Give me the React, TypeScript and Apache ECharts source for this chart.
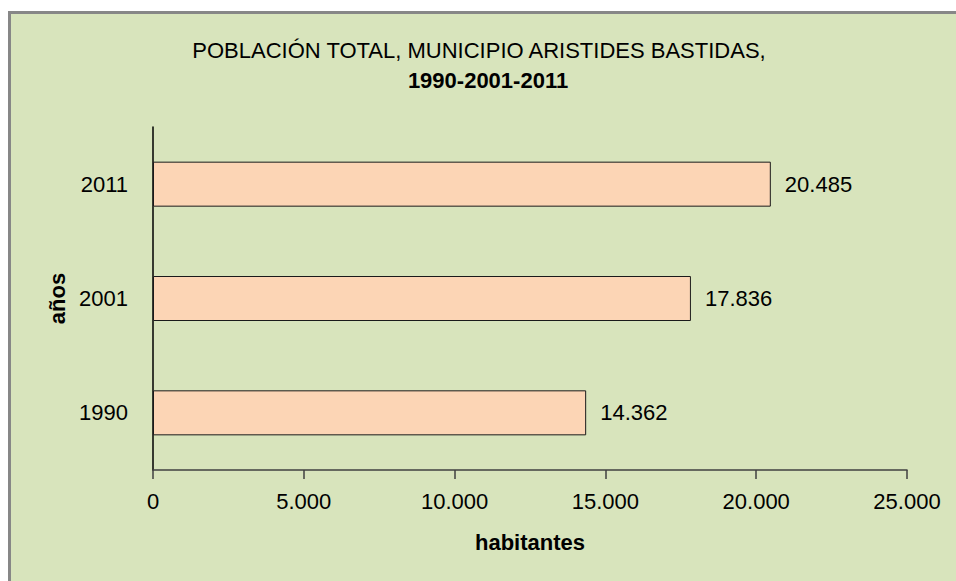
import React, { useEffect, useRef } from "react";
import * as echarts from "echarts";

const categories = ["1990", "2001", "2011"];
const population = [14362, 17836, 20485];
const xTicks = [0, 5000, 10000, 15000, 20000, 25000];
const titleLine1 = "POBLACIÓN TOTAL, MUNICIPIO ARISTIDES BASTIDAS,";
const titleLine2 = "1990-2001-2011";
const xName = "habitantes";
const yName = "años";

const FONT = "'Liberation Sans', Arial, sans-serif";

const fmt = (v: number) => String(v).replace(/\B(?=(\d{3})+(?!\d))/g, ".");

export default function App() {
  const ref = useRef<HTMLDivElement>(null);
  useEffect(() => {
    if (!ref.current) return;
    const chart = echarts.init(ref.current, undefined, { renderer: "svg" });
    chart.setOption({
      animation: false,
      backgroundColor: "#d8e4bc",
      textStyle: { fontFamily: FONT },
      graphic: [
        {
          type: "text",
          x: 468,
          y: 36,
          style: {
            text: titleLine1,
            textAlign: "center",
            textVerticalAlign: "middle",
            fontFamily: FONT,
            fontSize: 22,
            fill: "#000",
          },
        },
        {
          type: "text",
          x: 477,
          y: 66,
          style: {
            text: titleLine2,
            textAlign: "center",
            textVerticalAlign: "middle",
            fontFamily: FONT,
            fontSize: 22,
            fontWeight: "bold",
            fill: "#000",
          },
        },
      ],
      grid: { left: 142, top: 113, width: 754, height: 343, containLabel: false },
      xAxis: {
        type: "value",
        min: xTicks[0],
        max: xTicks[xTicks.length - 1],
        interval: xTicks[1] - xTicks[0],
        name: xName,
        nameLocation: "middle",
        nameGap: 61,
        nameTextStyle: { fontFamily: FONT, fontSize: 22, fontWeight: "bold", color: "#000" },
        axisLine: { show: true, lineStyle: { color: "#404040", width: 1.5 } },
        axisTick: { show: true, length: 9, lineStyle: { color: "#404040", width: 1.5 } },
        axisLabel: { fontFamily: FONT, fontSize: 22, color: "#000", margin: 20, formatter: (v: number) => fmt(v) },
        splitLine: { show: false },
      },
      yAxis: {
        type: "category",
        data: categories,
        name: yName,
        nameLocation: "middle",
        nameGap: 83,
        nameRotate: 90,
        nameTextStyle: { fontFamily: FONT, fontSize: 22, fontWeight: "bold", color: "#000" },
        axisLine: { show: true, lineStyle: { color: "#000", width: 1.5 } },
        axisTick: { show: false },
        axisLabel: { fontFamily: FONT, fontSize: 22, color: "#000", margin: 25 },
      },
      series: [
        {
          type: "bar",
          data: population,
          barWidth: 45,
          itemStyle: { color: "#fcd5b5", borderColor: "#1a1a1a", borderWidth: 1 },
          label: {
            show: true,
            position: "right",
            distance: 14,
            fontFamily: FONT,
            fontSize: 22,
            color: "#000",
            formatter: (p: any) => fmt(p.value),
          },
        },
      ],
    });
    return () => chart.dispose();
  }, []);
  return (
    <div
      style={{
        position: "absolute",
        left: 8,
        top: 11,
        width: 945,
        height: 567,
        borderLeft: "3px solid #878787",
        borderTop: "3px solid #878787",
        background: "#d8e4bc",
      }}
    >
      <div ref={ref} style={{ width: 945, height: 567 }} />
    </div>
  );
}
